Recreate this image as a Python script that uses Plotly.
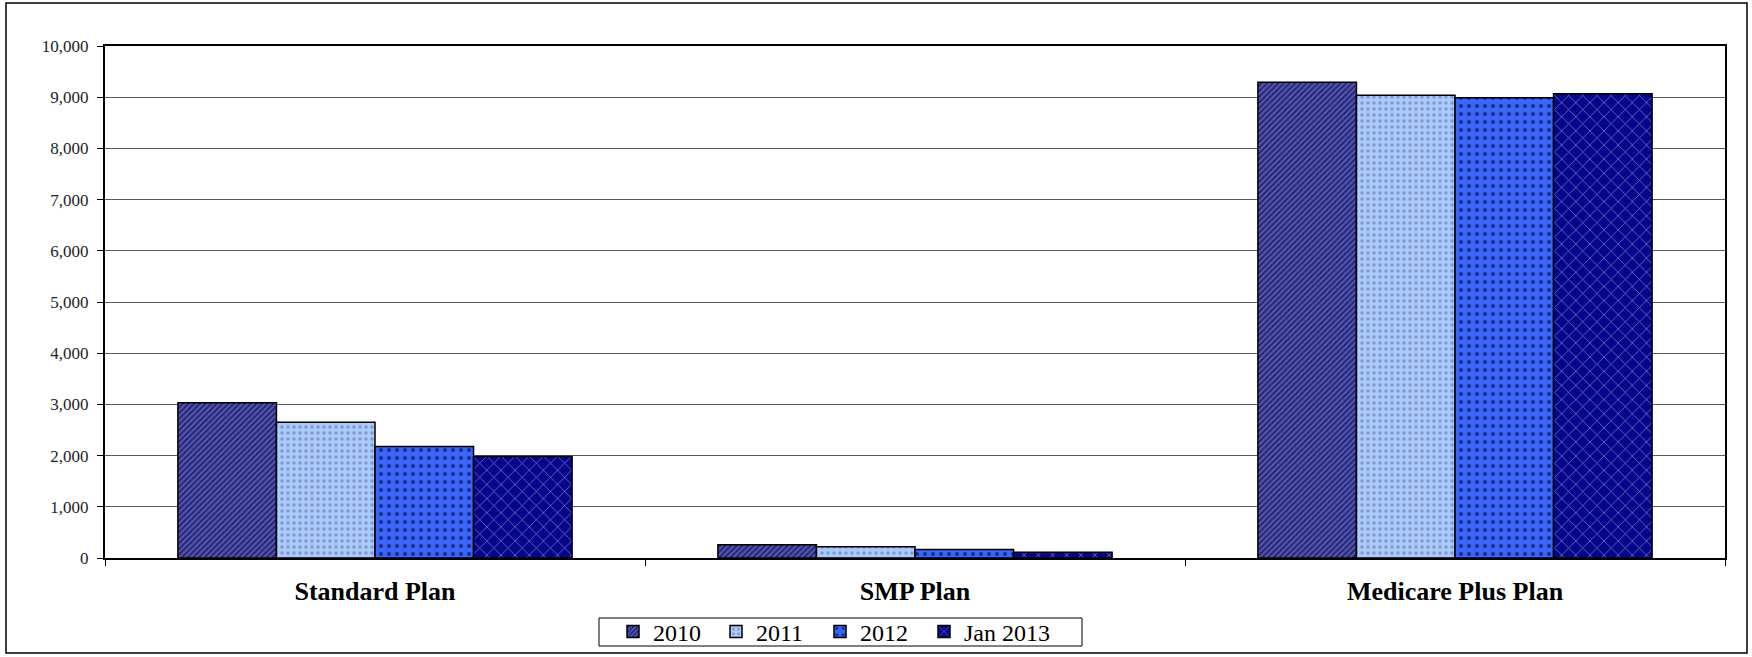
import plotly.graph_objects as go

# Enrollment by plan type
plans = ["Standard Plan", "SMP Plan", "Medicare Plus Plan"]
series_names = ["2010", "2011", "2012", "Jan 2013"]
values_2010 = [3030, 260, 9290]
values_2011 = [2650, 220, 9040]
values_2012 = [2180, 165, 8990]
values_jan2013 = [1980, 110, 9065]
y_ticks = [0, 1000, 2000, 3000, 4000, 5000, 6000, 7000, 8000, 9000, 10000]

series_values = [values_2010, values_2011, values_2012, values_jan2013]

# fill styles per series: (background, pattern colour, shape, size, solidity)
styles = [
    ("#5656a4", "#1c1c78", "/", 4, 0.4),
    ("#a6cdfb", "#8f8fd0", ".", 6, 0.25),
    ("#3a66fa", "#1a2c8c", ".", 8, 0.2),
    ("#06068a", "#7a7ac8", "x", 10, 0.14),
]

W, H = 1752, 657
L, R, T, B = 105, 1725, 46, 558


def px_x(v):
    return (v - L) / (R - L)


def px_y(v):
    return (B - v) / (B - T)


# each series gets its own one-entry legend so the entries sit evenly in the box
legend_ids = ["legend", "legend2", "legend3", "legend4"]
legend_text_x = [654, 757, 861, 965]

fig = go.Figure()
for name, vals, (bg, fg, shape, size, sol), lid in zip(
        series_names, series_values, styles, legend_ids):
    fig.add_trace(go.Bar(
        x=plans,
        y=vals,
        name=name,
        legend=lid,
        marker=dict(
            color=bg,
            line=dict(color="black", width=1.5),
            pattern=dict(shape=shape, fgcolor=fg, bgcolor=bg, size=size,
                         solidity=sol, fillmode="replace"),
        ),
    ))

legend_layouts = {}
for lid, tx in zip(legend_ids, legend_text_x):
    legend_layouts[lid] = dict(
        orientation="h",
        x=px_x(tx - 41), xanchor="left",
        y=px_y(632), yanchor="middle",
        bgcolor="rgba(0,0,0,0)",
        borderwidth=0,
        font=dict(family="Liberation Serif", size=24, color="black"),
        itemwidth=30,
    )

fig.update_layout(
    width=W,
    height=H,
    margin=dict(l=L, r=W - R, t=T, b=H - B, autoexpand=False),
    paper_bgcolor="white",
    plot_bgcolor="white",
    barmode="group",
    bargap=0.27,
    bargroupgap=0,
    font=dict(family="Liberation Serif", color="black"),
    showlegend=True,
    shapes=[
        # outer chart frame
        dict(type="rect", xref="paper", yref="paper",
             x0=px_x(6), x1=px_x(1747), y0=px_y(653), y1=px_y(3),
             line=dict(color="black", width=1.5), fillcolor="rgba(0,0,0,0)",
             layer="below"),
        # legend frame
        dict(type="rect", xref="paper", yref="paper",
             x0=px_x(599), x1=px_x(1082), y0=px_y(646), y1=px_y(618),
             line=dict(color="black", width=1), fillcolor="white",
             layer="below"),
    ],
    **legend_layouts,
)

fig.update_xaxes(
    showline=True, linecolor="black", linewidth=2, mirror=True,
    ticks="outside", tickson="boundaries", ticklen=6, tickcolor="black",
    showgrid=False,
    tickfont=dict(family="Liberation Serif", size=26, color="black"),
    tickprefix="<b>", ticksuffix="</b>",
    ticklabelstandoff=9,
)

fig.update_yaxes(
    range=[0, 10000],
    tickvals=y_ticks,
    tickformat=",d",
    showline=True, linecolor="black", linewidth=2, mirror=True,
    ticks="outside", ticklen=6, tickcolor="black",
    showgrid=True, gridcolor="#5a5a5a", gridwidth=1,
    zeroline=False,
    tickfont=dict(family="Liberation Serif", size=17, color="#222222"),
    ticklabelstandoff=5,
)

fig.write_html("out.html")
